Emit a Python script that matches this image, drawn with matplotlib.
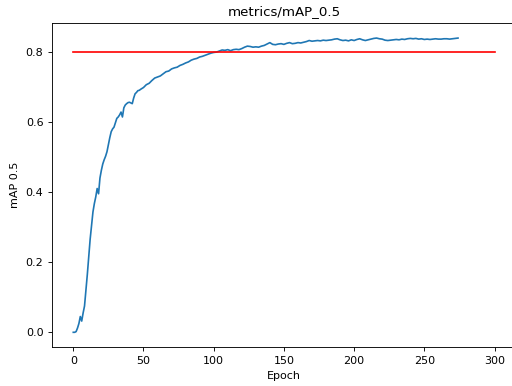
import matplotlib
matplotlib.use("Agg")
import matplotlib.pyplot as plt

# mAP@0.5 per epoch
epochs = list(range(0, 49)) + list(range(50, 275, 2))
map50 = [
    0.000, 0.000, 0.002, 0.012, 0.025, 0.045, 0.032, 0.055, 0.075, 0.120,
    0.165, 0.215, 0.265, 0.305, 0.343, 0.367, 0.386, 0.410, 0.395, 0.440,
    0.462, 0.480, 0.492, 0.502, 0.515, 0.535, 0.555, 0.572, 0.580, 0.585,
    0.598, 0.610, 0.614, 0.620, 0.628, 0.614, 0.640, 0.648, 0.652, 0.655,
    0.656, 0.654, 0.652, 0.668, 0.680, 0.684, 0.689, 0.690, 0.693,
    # every 2 epochs from 50
    0.698, 0.706, 0.710, 0.718, 0.725, 0.728, 0.731, 0.737, 0.743, 0.745,
    0.751, 0.754, 0.756, 0.761, 0.764, 0.768, 0.771, 0.776, 0.779, 0.781,
    0.785, 0.787, 0.790, 0.793, 0.796, 0.798, 0.799, 0.802, 0.805, 0.804,
    0.806, 0.803, 0.806, 0.807, 0.806, 0.809, 0.813, 0.816, 0.815, 0.813,
    0.814, 0.813, 0.816, 0.818, 0.822, 0.826, 0.821, 0.820, 0.822, 0.823,
    0.821, 0.824, 0.826, 0.823, 0.824, 0.826, 0.825, 0.827, 0.829, 0.832,
    0.830, 0.831, 0.832, 0.831, 0.833, 0.832, 0.833, 0.834, 0.836, 0.837,
    0.834, 0.832, 0.833, 0.831, 0.834, 0.832, 0.835, 0.837, 0.834, 0.832,
    0.834, 0.836, 0.838, 0.839, 0.837, 0.836, 0.833, 0.832, 0.833, 0.834,
    0.835, 0.834, 0.836, 0.835, 0.837, 0.838, 0.837, 0.838, 0.836, 0.837,
    0.835, 0.836, 0.835, 0.836, 0.837, 0.836, 0.836, 0.837, 0.837, 0.836,
    0.837, 0.838, 0.839,
]

target_x = [0, 300]
target_y = [0.8, 0.8]

fig = plt.figure(figsize=(5.12, 3.86), dpi=100)
ax = fig.add_axes([0.102, 0.101, 0.905, 0.8385])

ax.plot(epochs, map50, color="C0", linewidth=1.2)
ax.plot(target_x, target_y, color="red", linewidth=1.2)

ax.set_title("metrics/mAP_0.5", fontsize=9.6)
ax.set_xlabel("Epoch", fontsize=8)
ax.set_ylabel("mAP 0.5", fontsize=8)
ax.tick_params(labelsize=8, width=0.64, length=2.8)
for s in ax.spines.values():
    s.set_linewidth(0.64)

fig.savefig("out.png", dpi=100)
